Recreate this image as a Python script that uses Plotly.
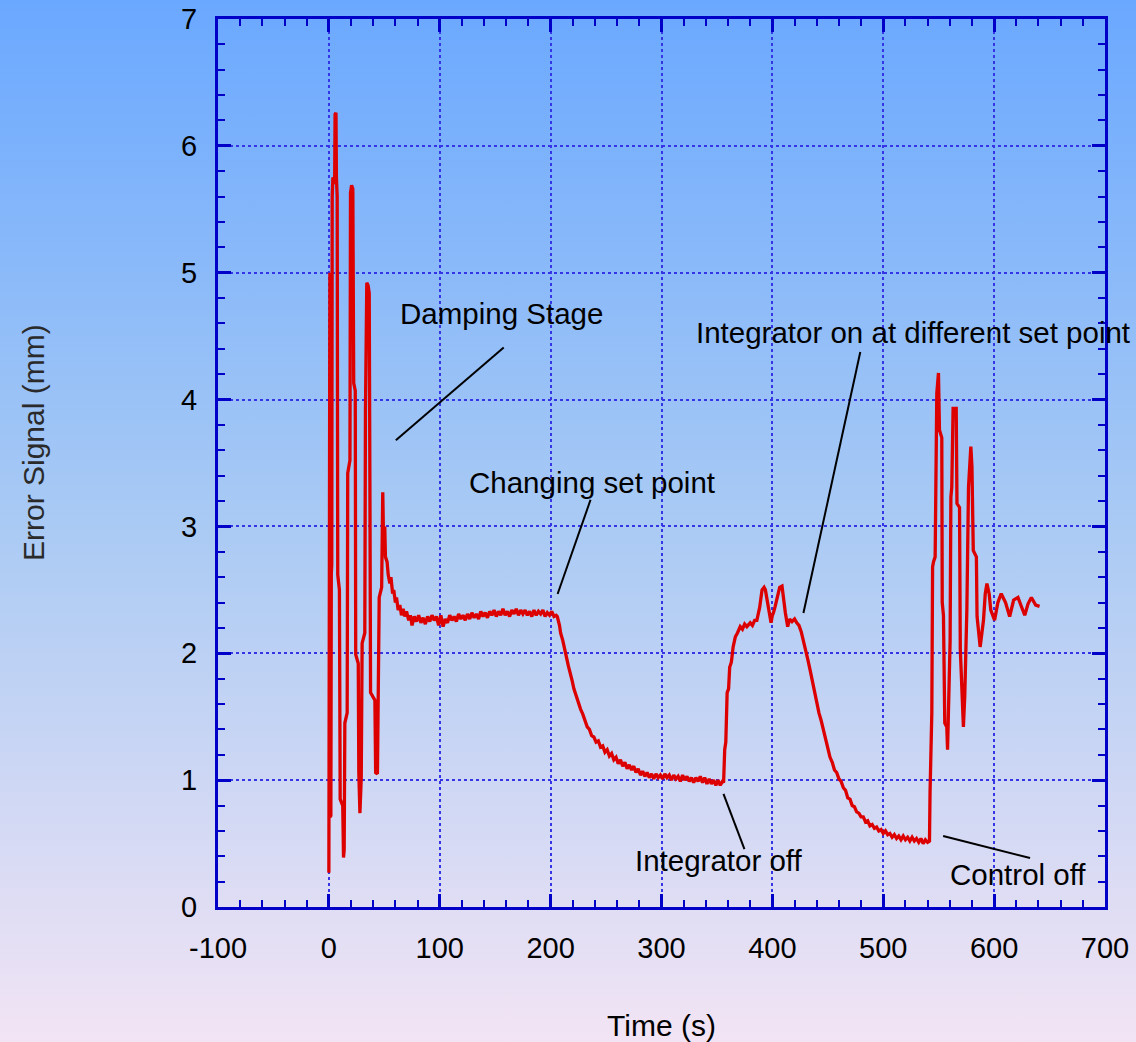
import base64
import plotly.graph_objects as go

# ---------------- data ----------------
# initial large oscillations (damping stage)
t_damp = [0, 0.2, 0.5, 0.9, 1.2, 1.8, 2.2, 2.6, 3.0, 3.6, 4.5, 5.2, 5.6, 6.4, 6.8, 7.5,
          8.0, 9.5, 10.2, 12.5, 13.2, 13.8, 14.4, 16.5, 17.0, 19.0, 19.5, 20.5, 21.6,
          22.4, 23.8, 24.2, 26.5, 27.0, 28.0, 28.7, 29.2, 30.0, 32.4, 33.0, 34.2, 35.4,
          36.4, 37.0, 37.6, 41.5, 42.2, 43.8, 44.2, 45.4, 47.6, 48.0, 48.6, 49.2, 50.4,
          51.0, 52.5]
y_damp = [0.27, 2.6, 5.0, 5.0, 0.71, 0.72, 2.63, 2.7, 5.6, 5.75, 5.74, 5.7, 6.25, 6.26, 5.75, 5.6,
          2.62, 2.5, 0.85, 0.8, 0.39, 0.45, 1.45, 1.53, 3.42, 3.52, 5.63, 5.69, 5.66,
          4.13, 4.07, 1.99, 1.92, 1.06, 0.74, 0.95, 1.02, 2.08, 2.16, 3.92, 4.92, 4.9,
          4.84, 3.34, 1.69, 1.63, 1.06, 1.05, 1.42, 2.44, 2.52, 3.26, 3.27, 2.95, 3.0,
          2.76, 2.72]

# settling and plateau
t_plat = [53.5, 55, 56, 57.5, 58.5, 60, 61, 62.5, 64, 65.5, 67, 68.5, 70, 72, 73.5, 75, 77, 79,
          81, 83, 85, 87, 89, 91, 93, 95, 97, 99, 101, 103, 105, 107, 109, 111, 113, 115,
          117, 119, 121, 123, 125, 127, 129, 131, 133, 135, 137, 139, 141, 143, 145, 147,
          149, 151, 153, 155, 157, 159, 161, 163, 165, 167, 169, 171, 173, 175, 177, 179,
          181, 183, 185, 187, 189, 191, 193, 195, 197, 199, 201, 203, 205]
y_plat = [2.62, 2.55, 2.6, 2.47, 2.5, 2.4, 2.44, 2.34, 2.38, 2.3, 2.35, 2.29, 2.33, 2.26, 2.3, 2.22, 2.29, 2.25,
          2.3, 2.24, 2.28, 2.23, 2.29, 2.25, 2.3, 2.26, 2.29, 2.22, 2.3, 2.21, 2.27, 2.24, 2.3, 2.26, 2.29, 2.25,
          2.31, 2.27, 2.3, 2.26, 2.31, 2.27, 2.32, 2.28, 2.31, 2.27, 2.33, 2.29, 2.32, 2.28, 2.33, 2.3,
          2.34, 2.29, 2.33, 2.3, 2.35, 2.3, 2.33, 2.29, 2.34, 2.31, 2.35, 2.3, 2.34, 2.31, 2.34, 2.3,
          2.33, 2.29, 2.34, 2.3, 2.33, 2.31, 2.34, 2.29, 2.32, 2.3, 2.33, 2.29, 2.3]

# set point change
t_drop = [206, 208, 209, 211, 212, 214, 216, 218, 219.5, 221, 223, 225, 227, 229, 231, 233, 235, 237,
          239, 241, 243, 245, 247, 249, 251, 253, 255, 257, 259, 261, 263, 265, 267, 269, 271,
          273, 275, 277, 279, 281, 283, 285, 287, 289, 291, 293, 295, 297, 299, 301, 303, 305,
          307, 309, 311, 313, 315, 317, 319, 321, 323, 325, 327, 329, 331, 333, 335, 337, 339,
          341, 343, 345, 347, 349, 351, 353, 355, 356]
y_drop = [2.29, 2.22, 2.16, 2.1, 2.05, 1.98, 1.9, 1.84, 1.78, 1.72, 1.66, 1.62, 1.56, 1.52, 1.46, 1.42, 1.4, 1.35,
          1.34, 1.3, 1.31, 1.26, 1.27, 1.22, 1.24, 1.19, 1.21, 1.16, 1.18, 1.13, 1.16, 1.11, 1.14, 1.09, 1.12,
          1.08, 1.11, 1.06, 1.09, 1.04, 1.07, 1.03, 1.06, 1.02, 1.05, 1.01, 1.05, 1.02, 1.04, 1.01, 1.05, 1.02,
          1.04, 1.0, 1.04, 1.01, 1.03, 0.99, 1.04, 1.0, 1.03, 0.99, 1.02, 0.98, 1.02, 0.99, 1.03, 0.98, 1.02,
          0.97, 1.01, 0.97, 1.0, 0.96, 1.0, 0.96, 0.99, 0.98]

# integrator off -> rise, integrator on at different set point
t_rise = [357, 358, 359.2, 360.5, 361.5, 363, 364.6, 366.6, 368.5, 371, 373, 375, 377, 380, 382, 384,
          386, 388.5, 390.7, 392.5, 393.7, 395, 396.6, 398.8, 400, 401, 402.5, 404, 406.6, 408.7,
          410, 411.7, 413.8, 415.5, 417.7, 420, 422]
y_rise = [1.24, 1.3, 1.69, 1.72, 1.89, 1.93, 2.05, 2.13, 2.16, 2.21, 2.19, 2.23, 2.21, 2.24, 2.22, 2.26,
          2.26, 2.36, 2.5, 2.52, 2.5, 2.43, 2.37, 2.24, 2.3, 2.32, 2.37, 2.42, 2.52, 2.53,
          2.42, 2.32, 2.21, 2.27, 2.25, 2.27, 2.24]

t_fall = [424, 426, 428, 430, 432, 434, 436, 438, 440, 442, 444, 446, 448, 450, 452, 454, 456, 458,
          460, 462, 464, 466, 468, 470, 472, 474, 476, 478, 480, 482, 484, 486, 488, 490, 492,
          494, 496, 498, 500, 502, 504, 506, 508, 510, 512, 514, 516, 518, 520, 522, 524, 526,
          528, 530, 532, 534, 536, 538, 540, 541.7]
y_fall = [2.22, 2.17, 2.1, 2.04, 1.95, 1.87, 1.78, 1.7, 1.61, 1.53, 1.47, 1.4, 1.32, 1.25, 1.18, 1.14, 1.08, 1.06,
          1.01, 0.99, 0.94, 0.92, 0.86, 0.85, 0.8, 0.79, 0.75, 0.74, 0.71, 0.71, 0.67, 0.68, 0.64, 0.65, 0.62,
          0.63, 0.6, 0.61, 0.58, 0.6, 0.57, 0.58, 0.55, 0.57, 0.54, 0.56, 0.53, 0.56, 0.53, 0.55, 0.52, 0.55,
          0.52, 0.54, 0.51, 0.54, 0.5, 0.53, 0.51, 0.52]

# control off
t_off = [542.2, 543.8, 544.5, 545.3, 546.8, 548.3, 549.8, 550.7, 552.8, 553.2, 554.3, 555.5, 557.3,
         558.0, 559.5, 560.3, 561.0, 561.8, 563.0, 565.8, 566.5, 568.8, 569.5, 572.3, 573.5,
         575.4, 576.9, 579.0, 580.0, 581.2, 584.0, 584.6, 587.4, 590.4, 592.0, 593.5, 595.5,
         597.0, 600.4, 603.4, 606.4, 610.3, 614.0, 617.6, 621.5, 624.5, 627.6, 630.6, 633.6,
         637.5, 641.0]
y_off = [0.9, 1.53, 2.68, 2.72, 2.76, 4.05, 4.21, 3.76, 3.7, 2.4, 2.3, 1.45, 1.42,
         1.24, 2.05, 2.1, 3.23, 3.31, 3.93, 3.93, 3.18, 3.15, 2.03, 1.42, 1.66,
         2.34, 3.31, 3.63, 3.47, 2.81, 2.76, 2.29, 2.05, 2.26, 2.47, 2.55, 2.47,
         2.34, 2.26, 2.4, 2.47, 2.4, 2.29, 2.42, 2.44, 2.37, 2.3, 2.39, 2.44,
         2.38, 2.37]

time_s = t_damp + t_plat + t_drop + t_rise + t_fall + t_off
error_mm = y_damp + y_plat + y_drop + y_rise + y_fall + y_off

x_ticks = [-100, 0, 100, 200, 300, 400, 500, 600, 700]
y_ticks = [0, 1, 2, 3, 4, 5, 6, 7]

# annotation labels: text, text position, leader line (start, end)
labels = ["Damping Stage", "Changing set point", "Integrator on at different set point",
          "Integrator off", "Control off"]
label_x = [156, 237, 527, 352, 621.6]
label_y = [4.675, 3.35, 4.525, 0.363, 0.26]
lead_x0 = [60.4, 206.3, 428, 355.9, 554]
lead_y0 = [3.68, 2.467, 2.317, 0.891, 0.56]
lead_x1 = [157.7, 236, 479.3, 374.8, 632.4]
lead_y1 = [4.41, 3.21, 4.375, 0.457, 0.386]

# ---------------- figure ----------------
W, H = 1136, 1042
ML, MR, MT, MB = 218, 31, 19, 135
pw, ph = W - ML - MR, H - MT - MB
FONT = "Liberation Sans, Arial, sans-serif"

fig = go.Figure()
fig.add_trace(go.Scatter(x=time_s, y=error_mm, mode="lines",
                         line=dict(color="#dd0000", width=3.3), showlegend=False))

svg = ('<svg xmlns="http://www.w3.org/2000/svg" width="%d" height="%d" viewBox="0 0 %d %d" '
       'preserveAspectRatio="none"><defs><linearGradient id="g" x1="0" y1="0" x2="0" y2="1">'
       '<stop offset="0" stop-color="#6aa8ff"/><stop offset="0.5" stop-color="#a9caf4"/>'
       '<stop offset="1" stop-color="#f2e4f4"/></linearGradient></defs>'
       '<rect width="%d" height="%d" fill="url(#g)"/></svg>') % (W, H, W, H, W, H)
src = "data:image/svg+xml;base64," + base64.b64encode(svg.encode()).decode()

fig.add_layout_image(dict(source=src, xref="paper", yref="paper",
                          x=-ML / pw, y=1 + MT / ph, sizex=W / pw, sizey=H / ph,
                          xanchor="left", yanchor="top", sizing="stretch", layer="below"))

for x0, y0, x1, y1 in zip(lead_x0, lead_y0, lead_x1, lead_y1):
    fig.add_shape(type="line", x0=x0, y0=y0, x1=x1, y1=y1, xref="x", yref="y",
                  line=dict(color="black", width=2))
for txt, tx, ty in zip(labels, label_x, label_y):
    fig.add_annotation(x=tx, y=ty, xref="x", yref="y", text=txt, showarrow=False,
                       font=dict(size=29.5, color="black", family=FONT))

# y-axis title placed as in the reference (slightly above the plot centre)
fig.add_annotation(x=(33 - ML) / pw, y=(907 - 443) / ph, xref="paper", yref="paper",
                   xanchor="center", yanchor="middle",
                   text="Error Signal (mm)", textangle=-90, showarrow=False,
                   font=dict(size=30, color="#2a2a2a", family=FONT))

axis_common = dict(showline=True, linecolor="#0000c8", linewidth=3, mirror="allticks",
                   ticks="inside", ticklen=13, tickwidth=3, tickcolor="#0000c8",
                   showgrid=True, gridcolor="#3535e6", gridwidth=2, griddash="dot",
                   zeroline=False, tickfont=dict(size=29, color="black", family=FONT))

fig.update_xaxes(range=[-100, 700], tickvals=x_ticks, ticktext=[str(v) for v in x_ticks],
                 minor=dict(dtick=20, ticks="inside", ticklen=7, tickwidth=2, tickcolor="#0000c8",
                            showgrid=False),
                 ticklabelstandoff=13,
                 title=dict(text="Time (s)", font=dict(size=30, color="black", family=FONT), standoff=53),
                 **axis_common)
fig.update_yaxes(range=[0, 7], tickvals=y_ticks, ticktext=[str(v) for v in y_ticks],
                 minor=dict(dtick=0.2, ticks="inside", ticklen=7, tickwidth=2, tickcolor="#0000c8",
                            showgrid=False),
                 ticklabelstandoff=12,
                 **axis_common)

fig.update_layout(width=W, height=H, margin=dict(l=ML, r=MR, t=MT, b=MB, autoexpand=False),
                  paper_bgcolor="#a8c8f4", plot_bgcolor="rgba(0,0,0,0)",
                  font=dict(family=FONT, color="black"))

fig.write_html("out.html", config={"displayModeBar": False},
               post_script="document.body.style.margin='0';")
